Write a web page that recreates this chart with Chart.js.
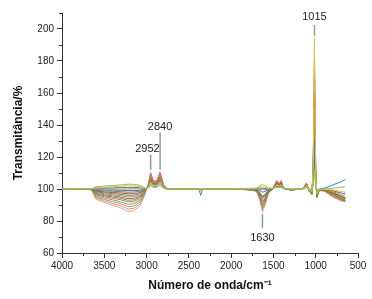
<!DOCTYPE html>
<html><head><meta charset="utf-8">
<script src="https://cdn.jsdelivr.net/npm/chart.js@4/dist/chart.umd.min.js"></script>
<style>html,body{margin:0;padding:0;background:#fff}</style>
</head><body>
<canvas id="c" width="372" height="299"></canvas>
<script>
// Wavenumber grid (cm-1)
const wavenumbers = [4000,3800,3700,3650,3600,3500,3400,3300,3220,3150,3080,3040,3000,
  2975,2952,2920,2880,2840,2800,2760,2600,2380,2360,2340,
  2000,1800,1700,1660,1630,1600,1560,
  1500,1460,1430,1410,1380,1300,
  1150,1110,1080,1045,1030,1015,1000,985,960,
  900,800,700,650];

const s00 = [100,100.1,100,100.2,101.4,101.8,102.2,102.6,103,102.9,102.3,101.4,100.1,
  100.8,102,101,101,102.5,100.5,100,100,100,99.8,100,
  100.2,100.3,100.6,101.8,103,102,100.8,
  100.3,101,100.6,101,100.2,100,
  100,101,100,99.5,102,112,101,99,99.8,
  100,100.5,101,101.5];
const s01 = [100,100,100.1,100.1,100.9,101.2,101.4,101.7,102,101.9,101.5,100.9,100,
  101.5,104,102,102,104.5,101,100,100,100,99.8,100,
  100,100.1,100.3,101,101.5,101,100.4,
  100.5,102.5,101.5,102.5,100.5,100,
  100,102,99.8,98.5,112,194,110,97,99.5,
  99.8,99.5,98.5,98];
const s02 = [100,99.9,100,100,100.5,100.6,100.7,100.9,101,101,100.8,100.5,100,
  101,103,101.5,101.5,103.5,100.8,100,100,100,99.7,100,
  100,100,100.2,100.5,100.5,100.4,100.1,
  100.3,101.5,101,101.5,100.3,99.8,
  100,101.2,100,99,104,130,104,98.5,100,
  100.5,102.5,104.5,106];
const s03 = [100,100.2,99.9,100,99.8,100.2,100,99.9,100,100.1,100,100,100,
  102,106,103,103,106.5,101.5,100,100,100,99.8,100,
  99.8,99.9,100,99.8,99.5,99.6,99.9,
  100.5,103,102,103,100.5,99.8,
  100,102.5,99.5,97.5,108,150,106,96.5,99.5,
  99.5,98.5,96.5,95.5];
const s04 = [100,100,100,100,99.6,99.4,99.3,99.2,99,99,99.3,99.6,100,
  101.5,104.5,102.5,102.5,105,101,100,100,100,99.7,100,
  100,99.9,99.8,99,98,98.5,99.6,
  100.4,102,101.2,102,100.3,99.7,
  100,101.5,99.6,98,106,140,105,97,99.5,
  99.7,99,97.5,97];
const s05 = [100,99.9,100,99.9,99.1,98.8,98.6,98.3,98,98.1,98.5,99.1,100,
  102.5,107,103.5,103.5,107.5,102,100,100,99.8,96,99.8,
  100,99.8,99.6,97.8,95.5,96.5,99.2,
  100.5,103.5,102.2,103.5,100.4,99.6,
  100,102.5,99.4,96.5,104,120,103,94.5,99.3,
  99.5,98,95.5,94];
const s06 = [100,100,99.9,99.9,98.7,98.2,97.8,97.5,97,97.1,97.8,98.7,100,
  102,105.5,103,103,106,101.5,100,100,100,99.6,100,
  100,99.8,99.5,97.5,95,96,99,
  100.5,104,102.5,104,100.4,99.6,
  100,103,99.5,98,110,160,108,96.5,99.3,
  99.3,97.5,95,94];
const s07 = [100,100.1,100,99.8,98.2,97.6,97.1,96.6,96,96.1,97,98.2,99.9,
  101.8,105,102.8,102.8,105.5,101.2,100,100,100,99.7,100,
  100,99.8,99.4,97,94,95.3,98.8,
  100.3,102.5,101.6,102.5,100.3,99.6,
  100,102,99.4,97.8,107,135,106,96.5,99.3,
  99.3,97.5,95.5,94.5];
const s08 = [100,99.9,100,99.8,97.8,97,96.4,95.8,95,95.2,96.3,97.8,99.9,
  103,108,104,104,108.5,102,100,100,100,99.6,100,
  100,99.7,99.3,96.5,93,94.5,98.6,
  100.6,104.5,102.8,104.5,100.5,99.5,
  100,103.5,99.3,97.5,112,165,110,96,99.2,
  99.2,97,94.5,93.5];
const s09 = [100,100,99.9,99.7,97.3,96.4,95.7,94.9,94,94.2,95.5,97.3,99.9,
  102,106,103.2,103.2,106.5,101.5,100,100,100,99.6,100,
  99.9,99.7,99.2,96,92,93.8,98.4,
  100.3,103,102,103,100.3,99.5,
  100,102.5,99.3,97.5,106,125,105,95.5,99.2,
  99.2,96.5,94,93];
const s10 = [100,100,100,99.7,96.9,95.8,95,94.1,93,93.2,94.8,96.9,99.9,
  103.5,109,104.5,104.5,109.5,102.5,100.2,100,100,99.6,100,
  100,99.7,99.1,95.5,91,93.2,98.2,
  100.8,105,103,105,100.6,99.5,
  100,103.5,99.2,97.5,112,170,110,96,99.2,
  99.1,96.5,94,93];
const s11 = [100,99.9,100,99.6,96.4,95.2,94.2,93.2,92,92.2,94,96.4,99.8,
  102.5,107,103.8,103.8,107.5,102,100,100,100,99.5,100,
  100,99.6,99,95,90,92.5,98,
  100.5,104,102.5,104,100.5,99.4,
  100,103,99.2,97.2,110,155,108,95.8,99.1,
  99,96,93.5,92.5];
const s12 = [100,100,99.9,99.5,95.7,94.3,93.2,91.9,90.5,90.8,92.9,95.7,99.8,
  102,106.5,103.5,103.5,107,101.8,100,100,100,99.5,100,
  100,99.6,98.9,94.5,89,91.8,97.8,
  100.4,103.5,102.2,103.5,100.4,99.4,
  100,102.5,99.1,97,106,118,104,95,99.1,
  99,96,93.5,92.5];
const s13 = [100,100,100,99.5,95,93.4,92.1,90.7,89,89.3,91.8,95,99.8,
  104,110,105,105,110.5,102.5,100.2,100,100,99.5,100,
  99.9,99.5,98.8,94,88,91,97.6,
  100.8,105,103,105,100.6,99.4,
  100,103.5,99,97,114,180,112,95.5,99,
  99,95.5,93,92.2];
const s14 = [100,99.9,100,99.4,94.4,92.5,91,89.4,87.5,87.9,90.6,94.4,99.8,
  103.5,109.5,104.5,104.5,110,102.5,100.1,100,100,99.5,100,
  100,99.5,98.7,93.5,87,90.3,97.4,
  100.7,105,103,105,100.5,99.3,
  100,103.5,99,97,113,175,111,95.5,99,
  98.9,95.5,93,92];
const s15 = [100,100,99.9,99.3,93.7,91.6,89.9,88.1,86,86.4,89.5,93.7,99.7,
  104,110.5,105,105,110.8,102.6,100.2,100,100,99.4,100,
  100,99.5,98.6,93,85.5,89.5,97.2,
  100.8,105.5,103.2,105.5,100.6,99.3,
  100,104,98.8,96.5,114,185,112,95,99,
  98.8,95,92.5,92];

const seriesList = [s00,s01,s02,s03,s04,s05,s06,s07,s08,s09,s10,s11,s12,s13,s14,s15];
const seriesColors = ['#9cc048','#d4c64a','#3d7dd8','#c8863a','#7b58a6','#3d9a48','#d23c3c','#2c9fa0',
  '#e48a2e','#6c8e30','#c862a8','#a8874a','#5fae5f','#d98080','#c4a468','#e2a0a0'];

const xTicks = [4000,3500,3000,2500,2000,1500,1000,500];
const xMinorTicks = [3750,3250,2750,2250,1750,1250,750];
const yTicks = [60,80,100,120,140,160,180,200];
const yMinorTicks = [70,90,110,130,150,170,190,210];

const peakLabels = ['2952','2840','1015','1630'];

seriesList.forEach((s,i)=>{ if (s.length !== wavenumbers.length) throw new Error('series '+i+' length '+s.length); });

const FAMILY = "'Liberation Sans', Arial, sans-serif";

const annotations = [
  {text: peakLabels[0], lx: 2990, ly: 125, x: 2952, y1: 121.5, y2: 112},
  {text: peakLabels[1], lx: 2840, ly: 139, x: 2840, y1: 135.5, y2: 112},
  {text: peakLabels[2], lx: 1015, ly: 207.5, x: 1015, y1: 202.5, y2: 195.5},
  {text: peakLabels[3], lx: 1630, ly: 69.5, x: 1630, y1: 84.5, y2: 75.5}
];

const extras = {
  id: 'extras',
  afterDraw(chart) {
    const {ctx, chartArea, scales: {x, y}} = chart;
    ctx.save();
    ctx.strokeStyle = '#333'; ctx.lineWidth = 1;
    ctx.beginPath();
    xMinorTicks.forEach(v => { const px = Math.round(x.getPixelForValue(v)) + 0.5; ctx.moveTo(px, chartArea.bottom); ctx.lineTo(px, chartArea.bottom + 3); });
    yMinorTicks.forEach(v => { const py = Math.round(y.getPixelForValue(v)) + 0.5; ctx.moveTo(chartArea.left - 3, py); ctx.lineTo(chartArea.left, py); });
    ctx.stroke();
    ctx.strokeStyle = '#9a9a9a'; ctx.lineWidth = 1.5;
    ctx.fillStyle = '#222';
    ctx.font = '11px ' + FAMILY;
    ctx.textAlign = 'center'; ctx.textBaseline = 'middle';
    annotations.forEach(a => {
      const px = x.getPixelForValue(a.x);
      ctx.beginPath();
      ctx.moveTo(px, y.getPixelForValue(a.y1));
      ctx.lineTo(px, y.getPixelForValue(a.y2));
      ctx.stroke();
      ctx.fillText(a.text, x.getPixelForValue(a.lx), y.getPixelForValue(a.ly));
    });
    ctx.restore();
  }
};

new Chart(document.getElementById('c'), {
  type: 'line',
  data: {
    datasets: seriesList.map((vals, i) => ({
      data: vals.map((v, j) => ({x: wavenumbers[j], y: v})),
      borderColor: seriesColors[i],
      borderWidth: 1,
      pointRadius: 0,
      fill: false,
      tension: 0
    }))
  },
  options: {
    responsive: false,
    animation: false,
    layout: {padding: {left: 0, top: 13, right: 14, bottom: 0}},
    plugins: {legend: {display: false}, tooltip: {enabled: false}},
    scales: {
      x: {
        type: 'linear', reverse: true, min: 500, max: 4000,
        afterBuildTicks(s) { s.ticks = xTicks.map(v => ({value: v})); },
        ticks: {font: {size: 10, family: FAMILY}, color: '#222', padding: 2, maxRotation: 0, autoSkip: false,
          callback: v => String(v)},
        grid: {drawOnChartArea: false, drawTicks: true, tickLength: 5, tickColor: '#333'},
        border: {display: true, color: '#333', width: 1},
        title: {display: true, text: 'Número de onda/cm⁻¹', color: '#111',
          font: {size: 12, weight: 'bold', family: FAMILY}, padding: {top: 0, bottom: 6}},
        afterFit(s) { s.height = 46; }
      },
      y: {
        min: 60, max: 210,
        afterBuildTicks(s) { s.ticks = yTicks.map(v => ({value: v})); },
        ticks: {font: {size: 10, family: FAMILY}, color: '#222', padding: 3, callback: v => String(v)},
        grid: {drawOnChartArea: false, drawTicks: true, tickLength: 5, tickColor: '#333'},
        border: {display: true, color: '#333', width: 1},
        title: {display: true, text: 'Transmitância/%', color: '#111',
          font: {size: 12, weight: 'bold', family: FAMILY}, padding: {top: 11, bottom: 0}},
        afterFit(s) { s.width = 62; }
      }
    }
  },
  plugins: [extras]
});
</script>
</body></html>
